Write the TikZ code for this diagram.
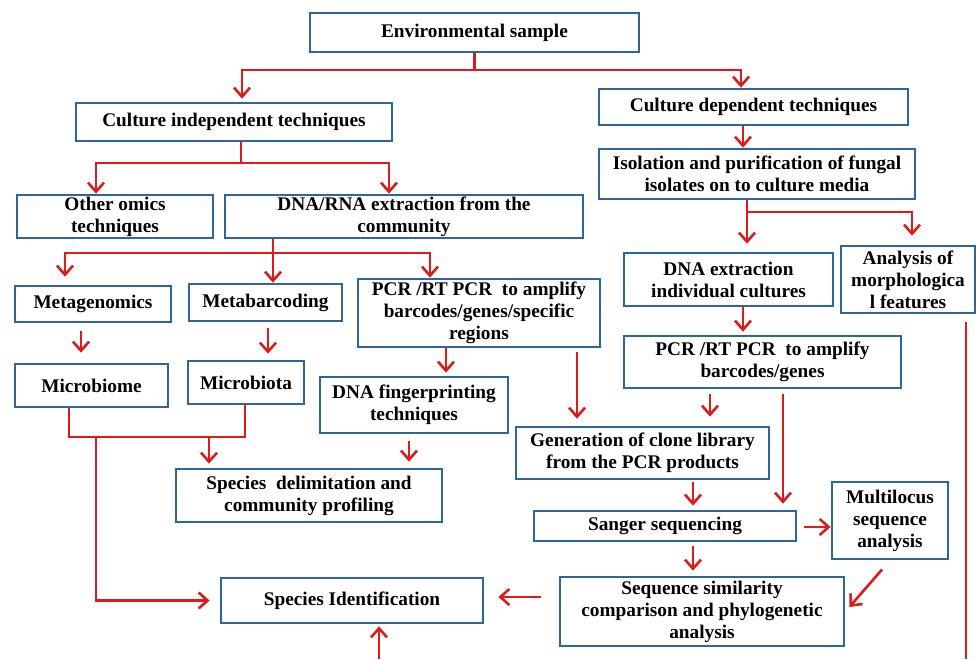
\documentclass[tikz,border=0pt]{standalone}
\usepackage{fontspec}
\setmainfont{Liberation Serif}
\usepackage{tikz}
\usetikzlibrary{arrows.meta,calc}
\definecolor{boxblue}{HTML}{2F6699}
\definecolor{flowred}{HTML}{DD1C1A}

\begin{document}
\begin{tikzpicture}[x=1pt, y=-1pt, >={Straight Barb[length=9pt,width=16pt]},
  blk/.style={draw=boxblue, line width=2.8pt, fill=white, inner sep=0pt, align=center,
              font=\fontsize{19.3}{22}\selectfont\bfseries},
  flow/.style={draw=flowred, line width=2.6pt},
  lnk/.style={flow, ->}]
  \useasboundingbox (0,0) rectangle (979,659);

  % boxes
  \node[blk, minimum width=329, minimum height=39] (env) at (474.5,32.5) {Environmental sample};
  \node[blk, minimum width=316, minimum height=38] (cind) at (234,122) {Culture independent techniques};
  \node[blk, minimum width=309, minimum height=36] (cdep) at (753.5,107) {Culture dependent techniques};
  \node[blk, minimum width=316, minimum height=50] (iso) at (757,174)
    {Isolation and purification of fungal\\isolates on to culture media};
  \node[blk, minimum width=196, minimum height=43] (omics) at (115,216.5) {Other omics\\techniques};
  \node[blk, minimum width=358, minimum height=43] (dnarna) at (404,216.5)
    {DNA/RNA extraction from the\\community};
  \node[blk, minimum width=156, minimum height=36] (metag) at (93,304) {Metagenomics};
  \node[blk, minimum width=153, minimum height=37] (metab) at (265.5,302.5) {Metabarcoding};
  \node[blk, minimum width=242, minimum height=68] (pcrl) at (479,313)
    {PCR /RT PCR~ to amplify\\barcodes/genes/specific\\regions};
  \node[blk, minimum width=153, minimum height=43] (mbiome) at (91.5,385.5) {Microbiome};
  \node[blk, minimum width=116, minimum height=43] (mbiota) at (246,382.5) {Microbiota};
  \node[blk, minimum width=188, minimum height=56] (finger) at (414,405)
    {DNA fingerprinting\\techniques};
  \node[blk, minimum width=266, minimum height=53] (delim) at (309,495.5)
    {Species~ delimitation and\\community profiling};
  \node[blk, minimum width=262, minimum height=45] (spid) at (352,600.5) {Species Identification};
  \node[blk, minimum width=209, minimum height=53] (dnaind) at (728.5,279.5)
    {DNA extraction\\individual cultures};
  \node[blk, minimum width=134, minimum height=67] (morph) at (908,279.5)
    {Analysis of\\morphologica\\l features};
  \node[blk, minimum width=277, minimum height=52] (pcrr) at (762.5,362)
    {PCR /RT PCR~ to amplify\\barcodes/genes};
  \node[blk, minimum width=253, minimum height=52] (clone) at (642.5,453)
    {Generation of clone library\\from the PCR products};
  \node[blk, minimum width=262, minimum height=30] (sanger) at (665,526) {Sanger sequencing};
  \node[blk, minimum width=116, minimum height=77] (mlsa) at (890,520.5)
    {Multilocus\\sequence\\analysis};
  \node[blk, minimum width=284, minimum height=69] (seqsim) at (702,611.5)
    {Sequence similarity\\comparison and phylogenetic\\analysis};

  % branch points
  \coordinate (e1) at (474.5,70);
  \coordinate (c1) at (241,163);
  \coordinate (d1) at (273,253);
  \coordinate (i1) at (747,212);
  \coordinate (m1) at (157,437);
  \coordinate (m2) at (96,437);
  \coordinate (m3) at (209,437);
  \coordinate (b1) at (966,659);
  \coordinate (b2) at (379,659);

  % culture independent side
  \draw[flow] (env.south) -- (e1);
  \draw[lnk, shorten >=3pt] (e1) -| ([xshift=8]cind.north);
  \draw[lnk] (e1) -| ([xshift=-12.5]cdep.north);
  \draw[flow] ([xshift=7]cind.south) -- (c1);
  \draw[lnk] (c1) -| ([xshift=-19]omics.north);
  \draw[lnk] (c1) -| ([xshift=-15]dnarna.north);
  \draw[flow] ([xshift=-131]dnarna.south) -- (d1);
  \draw[lnk, shorten >=8pt] (d1) -| ([xshift=-28]metag.north);
  \draw[lnk] (d1) -- ([xshift=7.5]metab.north);
  \draw[lnk] (d1) -| ([xshift=-49]pcrl.north);
  \draw[lnk, shorten <=8pt, shorten >=10pt] ([xshift=-12]metag.south) -- ([xshift=-10.5]mbiome.north);
  \draw[lnk, shorten <=6pt, shorten >=6pt] ([xshift=2.5]metab.south) -- ([xshift=22]mbiota.north);
  \draw[flow] ([xshift=-22.5]mbiome.south) |- (m1) -| ([xshift=-1]mbiota.south);
  \draw[lnk, shorten >=10pt] (m2) |- (spid.west);
  \draw[lnk, shorten >=4pt] (m3) -- ([xshift=-100]delim.north);
  \draw[lnk, shorten >=3pt] ([xshift=-33]pcrl.south) -- ([xshift=32]finger.north);
  \draw[lnk, shorten <=7pt, shorten >=6pt] ([xshift=-5]finger.south) -- ([xshift=100]delim.north);
  \draw[lnk, shorten <=4pt, shorten >=7pt] ([xshift=98]pcrl.south) -- ([xshift=-65.5]clone.north);

  % culture dependent side
  \draw[lnk] ([xshift=-10.5]cdep.south) -- ([xshift=-14]iso.north);
  \draw[lnk, shorten >=8pt] ([xshift=-10]iso.south) -- ([xshift=18.5]dnaind.north);
  \draw[lnk, shorten >=9pt] (i1) -| ([xshift=4]morph.north);
  \draw[lnk, shorten >=3pt] ([xshift=14.5]dnaind.south) -- ([xshift=-19.5]pcrr.north);
  \draw[lnk, shorten <=5pt, shorten >=9pt] ([xshift=-52.5]pcrr.south) -- ([xshift=67.5]clone.north);
  \draw[lnk, shorten <=5pt, shorten >=6pt] ([xshift=20.5]pcrr.south) -- ([xshift=118]sanger.north);
  \draw[lnk, shorten <=2pt, shorten >=4pt] ([xshift=50.5]clone.south) -- ([xshift=28]sanger.north);
  \draw[lnk, shorten <=7pt] ([yshift=-1]sanger.east) -- ([yshift=-1]sanger.east -| mlsa.west);
  \draw[lnk, shorten <=4pt, shorten >=5pt] ([xshift=28]sanger.south) -- ([xshift=-9]seqsim.north);
  \draw[lnk, shorten <=12pt, shorten >=6pt] (mlsa.south) -- (seqsim.east);
  \draw[lnk, shorten <=18pt, shorten >=14pt] ([yshift=14.5]seqsim.west) -- ([yshift=14.5]seqsim.west -| spid.east);
  \draw[flow, shorten <=8pt] ([xshift=58]morph.south) -- (b1);
  \draw[lnk, shorten >=2pt] (b2) -- ([xshift=27]spid.south);
\end{tikzpicture}
\end{document}
